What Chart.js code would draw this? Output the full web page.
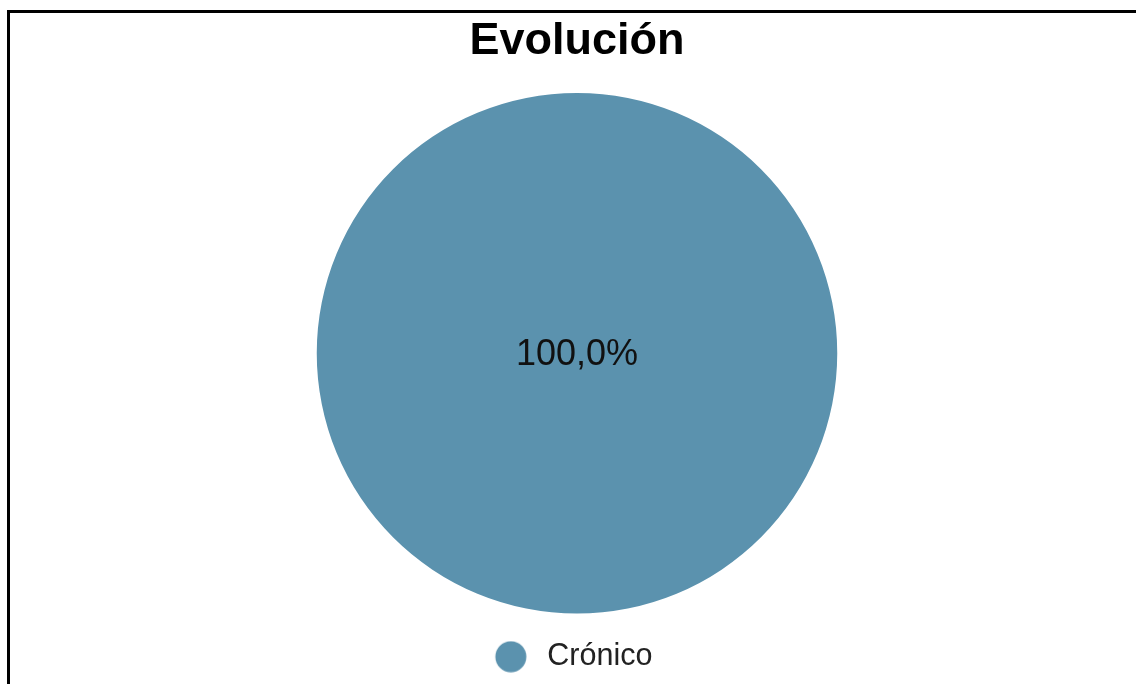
<!DOCTYPE html>
<html>
<head>
<meta charset="utf-8">
<title>Evolución</title>
<script src="https://cdn.jsdelivr.net/npm/chart.js@4/dist/chart.umd.min.js"></script>
<style>
    html, body { margin: 0; padding: 0; background: #fff; overflow: hidden; }
    #wrap { position: relative; width: 1136px; height: 684px; }
    #frame {
        position: absolute; left: 7px; top: 10px;
        width: 1300px; height: 900px;
        border: 3px solid #000; box-sizing: border-box;
        pointer-events: none;
    }
    canvas { position: absolute; left: 0; top: 0; }
</style>
</head>
<body>
<div id="wrap">
    <canvas id="evolucionChart" width="1136" height="684"></canvas>
    <div id="frame"></div>
</div>
<script>
const categories = ['Crónico'];
const counts = [1];
const colors = ['#5b92ae'];

const fontFamily = '"Liberation Sans", Arial, sans-serif';

// legend marker: a dot sitting in the left part of a wider image,
// so there is more room between the dot and the label text
function legendDot(color) {
    const c = document.createElement('canvas');
    c.width = 46;
    c.height = 32;
    const g = c.getContext('2d');
    g.fillStyle = color;
    g.beginPath();
    g.arc(17, 16, 15.5, 0, Math.PI * 2);
    g.fill();
    return c;
}

// percentage label in the middle of each slice
const sliceLabels = {
    id: 'sliceLabels',
    afterDatasetsDraw(chart) {
        const { ctx } = chart;
        const meta = chart.getDatasetMeta(0);
        const data = chart.data.datasets[0].data;
        const total = data.reduce((a, b) => a + b, 0);
        ctx.save();
        ctx.font = '36px ' + fontFamily;
        ctx.fillStyle = '#111';
        ctx.textAlign = 'center';
        ctx.textBaseline = 'middle';
        meta.data.forEach((arc, i) => {
            const pct = (data[i] / total * 100).toFixed(1).replace('.', ',') + '%';
            let pos;
            if (arc.circumference >= Math.PI * 2 - 1e-6) {
                pos = { x: arc.x, y: arc.y + 2 };
            } else {
                pos = arc.tooltipPosition();
            }
            ctx.fillText(pct, pos.x, pos.y);
        });
        ctx.restore();
    }
};

new Chart(document.getElementById('evolucionChart'), {
    type: 'pie',
    data: {
        labels: categories,
        datasets: [{
            data: counts,
            backgroundColor: colors,
            borderWidth: 0,
        }],
    },
    options: {
        responsive: false,
        animation: false,
        layout: {
            padding: { left: 18, right: 0, top: 0, bottom: 2 },
        },
        plugins: {
            title: {
                display: true,
                text: 'Evolución',
                color: '#000',
                font: { family: fontFamily, size: 45, weight: 'bold', lineHeight: 1.2 },
                padding: { top: 15, bottom: 24 },
            },
            legend: {
                position: 'bottom',
                labels: {
                    usePointStyle: true,
                    pointStyle: legendDot(colors[0]),
                    color: '#222',
                    padding: 28,
                    font: { family: fontFamily, size: 30.5, lineHeight: 1 },
                },
            },
            tooltip: { enabled: false },
        },
    },
    plugins: [sliceLabels],
});
</script>
</body>
</html>
